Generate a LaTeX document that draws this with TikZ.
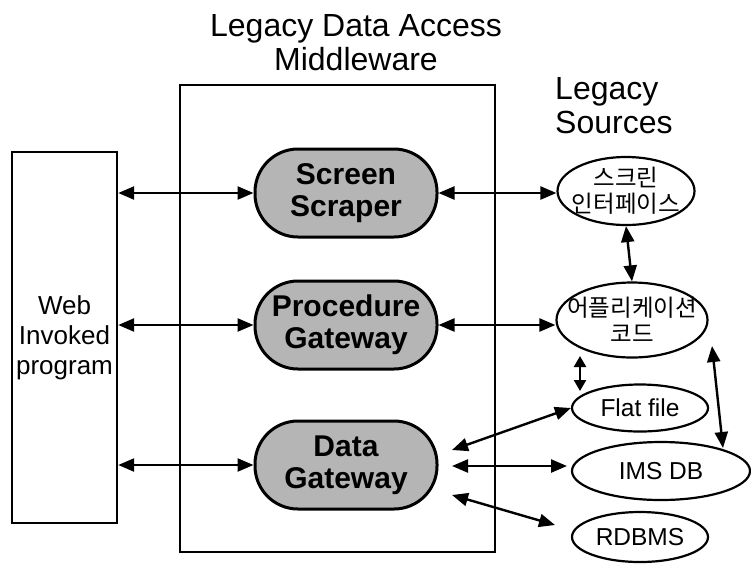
\documentclass[tikz,border=0pt]{standalone}
\usepackage{fontspec}
\setmainfont{Liberation Sans}
\newfontfamily\kofont{Noto Sans CJK KR}
\usetikzlibrary{arrows.meta,shapes.geometric,calc}

\begin{document}
\begin{tikzpicture}[x=1pt,y=-1pt,
  conn/.style={line width=2.4pt,
    {Triangle[length=16pt,width=13pt]}-{Triangle[length=16pt,width=13pt]}},
  shortconn/.style={line width=2.4pt,
    {Triangle[length=11pt,width=12pt]}-{Triangle[length=11pt,width=12pt]}},
  frame/.style={draw,line width=2.4pt,inner sep=0},
  pill/.style={draw,line width=3pt,fill=gray!58,rounded corners=43pt,
    minimum width=182pt,minimum height=88pt,inner sep=0,align=center,
    font=\fontsize{30}{32}\selectfont\bfseries},
  src/.style={draw,ellipse,line width=2.2pt,inner sep=0},
  kotext/.style={align=center,inner sep=0,font=\kofont\fontsize{23.5}{26}\selectfont},
  entext/.style={inner sep=0,font=\fontsize{24.5}{27}\selectfont},
  heading/.style={align=left,inner sep=0,font=\fontsize{32}{34}\selectfont}]

\useasboundingbox (0,0) rectangle (751,563);

% headings
\node[heading,align=center] (title) at (356,43) {Legacy Data Access\\Middleware};
\node[heading,anchor=north west] (srctitle) at (555,77) {Legacy\\Sources};

% outer boxes
\node[frame,minimum width=315pt,minimum height=467pt] (mw) at (337.5,318.5) {};
\node[frame,minimum width=105pt,minimum height=371pt,align=center,
  font=\fontsize{26}{30}\selectfont] (web) at (64.5,337.5) {Web\\Invoked\\program};

% middleware components
\node[pill] (ss) at (346,193) {Screen\\Scraper};
\node[pill] (pg) at (346,325) {Procedure\\Gateway};
\node[pill] (dg) at (346,465) {Data\\Gateway};

% legacy sources
\node[src,minimum width=137pt,minimum height=68pt] (scr) at (626,191) {};
\node[kotext] at (scr) {스크린\\인터페이스};
\node[src,minimum width=151pt,minimum height=75pt] (app) at (632,320) {};
\node[kotext] at (app) {어플리케이션\\코드};
\node[src,minimum width=136pt,minimum height=47pt] (flat) at (640,408) {};
\node[entext] at (flat) {Flat file};
\node[src,minimum width=178pt,minimum height=58pt] (ims) at (661,471) {};
\node[entext] at (ims) {IMS DB};
\node[src,minimum width=136pt,minimum height=50pt] (rdb) at (640,537) {};
\node[entext] at (rdb) {RDBMS};

% free ends of the data gateway and source links
\coordinate (dgA) at (452,450);
\coordinate (dgB) at (452,466);
\coordinate (dgC) at (452,495);
\coordinate (imsIn) at (567,466);
\coordinate (rdbIn) at (555,525);
\coordinate (appLow) at (580,356);
\coordinate (flatTop) at (580,391);
\coordinate (appRight) at (712,346);
\coordinate (imsTop) at (723,448);

% web program to middleware
\draw[conn] (ss.west -| web.east) -- (ss.west);
\draw[conn] (pg.west -| web.east) -- (pg.west);
\draw[conn] (dg.west -| web.east) -- (dg.west);

% middleware to sources
\draw[conn] (ss.east) -- (ss.east -| scr.west);
\draw[conn] (pg.east) -- (pg.east -| app.west);
\draw[conn] (dgA) -- (flat.west);
\draw[conn] (dgB) -- (imsIn);
\draw[conn] (dgC) -- (rdbIn);

% links between sources
\draw[conn] (scr.south) -- (app.north);
\draw[shortconn] (appLow) -- (flatTop);
\draw[conn] (appRight) -- (imsTop);
\end{tikzpicture}
\end{document}
